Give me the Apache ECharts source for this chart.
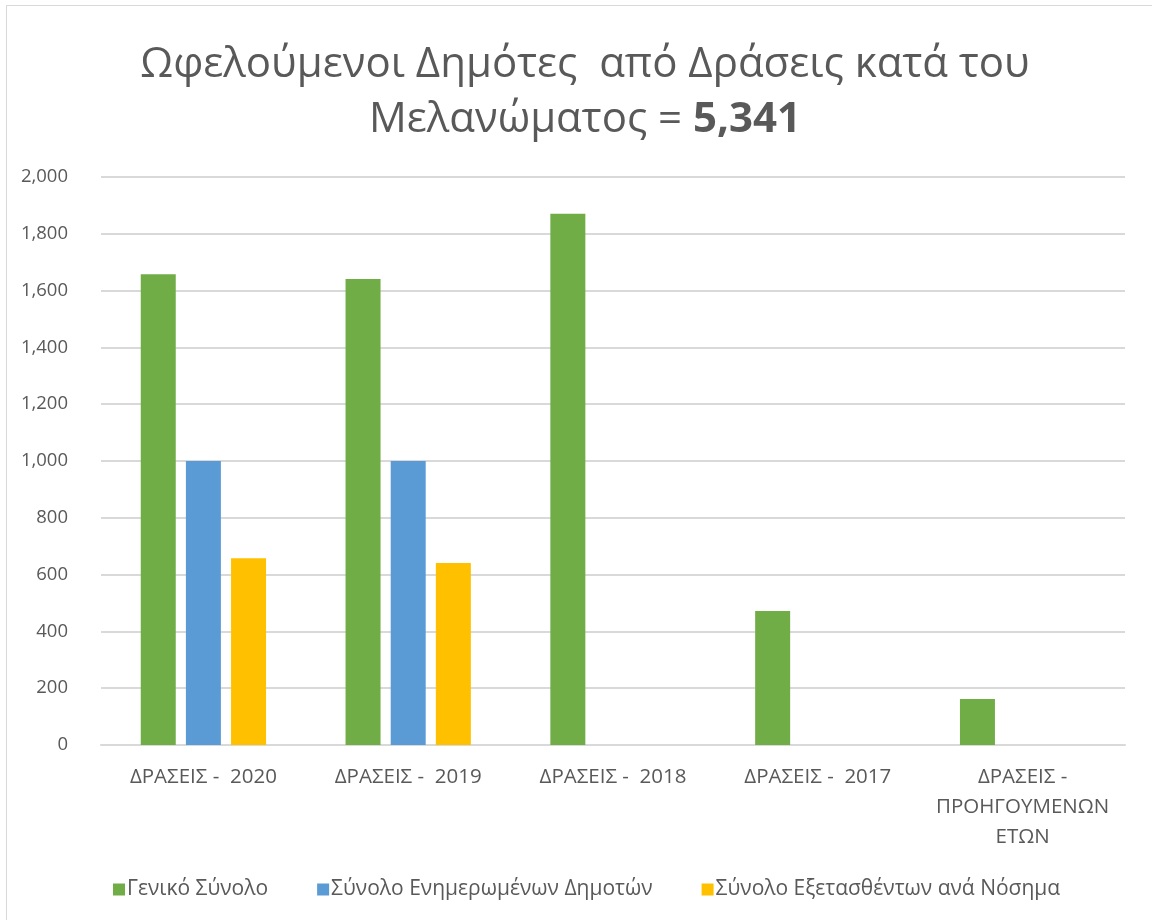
<!DOCTYPE html>
<html>
<head>
<meta charset="utf-8">
<script src="https://cdn.jsdelivr.net/npm/echarts@6/dist/echarts.min.js"></script>
<style>
  html, body { margin: 0; padding: 0; background: #fff; }
  #frame { position: absolute; left: 6px; top: 5px; width: 1160px; height: 930px; border: 1px solid #d9d9d9; box-sizing: border-box; }
  #chart { position: absolute; left: 0; top: 0; width: 1152px; height: 920px; }
</style>
</head>
<body>
<div id="frame"></div>
<div id="chart"></div>
<script>
const categories = ["ΔΡΑΣΕΙΣ -  2020", "ΔΡΑΣΕΙΣ -  2019", "ΔΡΑΣΕΙΣ -  2018", "ΔΡΑΣΕΙΣ -  2017", "ΔΡΑΣΕΙΣ -\nΠΡΟΗΓΟΥΜΕΝΩΝ\nΕΤΩΝ"];
const seriesNames = ["Γενικό Σύνολο", "Σύνολο Ενημερωμένων Δημοτών", "Σύνολο Εξετασθέντων ανά Νόσημα"];
const totalValues = [1658, 1641, 1871, 472, 162];
const informedValues = [1000, 1000, null, null, null];
const examinedValues = [658, 641, null, null, null];
const colors = ["#70ad47", "#5b9bd5", "#ffc000"];
const yTicks = { min: 0, max: 2000, interval: 200 };

const font = "Open Sans, sans-serif";
const textColor = "#595959";

const chart = echarts.init(document.getElementById("chart"));

const option = {
  animation: false,
  color: colors,
  textStyle: { fontFamily: font },
  title: {
    text: "Ωφελούμενοι Δημότες  από Δράσεις κατά του\nΜελανώματος = {b|5,341}",
    left: 580,
    top: 33,
    textAlign: "center",
    textStyle: {
      fontFamily: font,
      fontSize: 42,
      fontWeight: "normal",
      color: textColor,
      lineHeight: 55,
      rich: {
        b: { fontFamily: font, fontSize: 42, fontWeight: "bold", color: textColor, lineHeight: 55 }
      }
    }
  },
  grid: {
    left: 101,
    right: 27,
    top: 177,
    bottom: 175
  },
  legend: {
    data: seriesNames,
    top: 874,
    left: 108,
    itemWidth: 12,
    itemHeight: 12,
    itemGap: 49,
    icon: "rect",
    textStyle: { fontFamily: font, fontSize: 21, color: textColor, padding: [0, 0, 0, -3] }
  },
  xAxis: {
    type: "category",
    data: categories,
    axisLine: { show: true, lineStyle: { color: "#d9d9d9", width: 2 } },
    axisTick: { show: false },
    axisLabel: { fontFamily: font, fontSize: 20.5, color: textColor, margin: 17, lineHeight: 30, interval: 0 }
  },
  yAxis: {
    type: "value",
    min: yTicks.min,
    max: yTicks.max,
    interval: yTicks.interval,
    axisLine: { show: false },
    axisTick: { show: false },
    splitLine: { lineStyle: { color: "#d9d9d9", width: 2 } },
    axisLabel: {
      fontFamily: font,
      fontSize: 18.5,
      color: textColor,
      margin: 33,
      formatter: v => v.toLocaleString("en-US")
    }
  },
  series: [
    { name: seriesNames[0], type: "bar", data: totalValues, barWidth: 35, barGap: "29%" },
    { name: seriesNames[1], type: "bar", data: informedValues, barWidth: 35, barGap: "29%" },
    { name: seriesNames[2], type: "bar", data: examinedValues, barWidth: 35, barGap: "29%" }
  ]
};

chart.setOption(option);
</script>
</body>
</html>
